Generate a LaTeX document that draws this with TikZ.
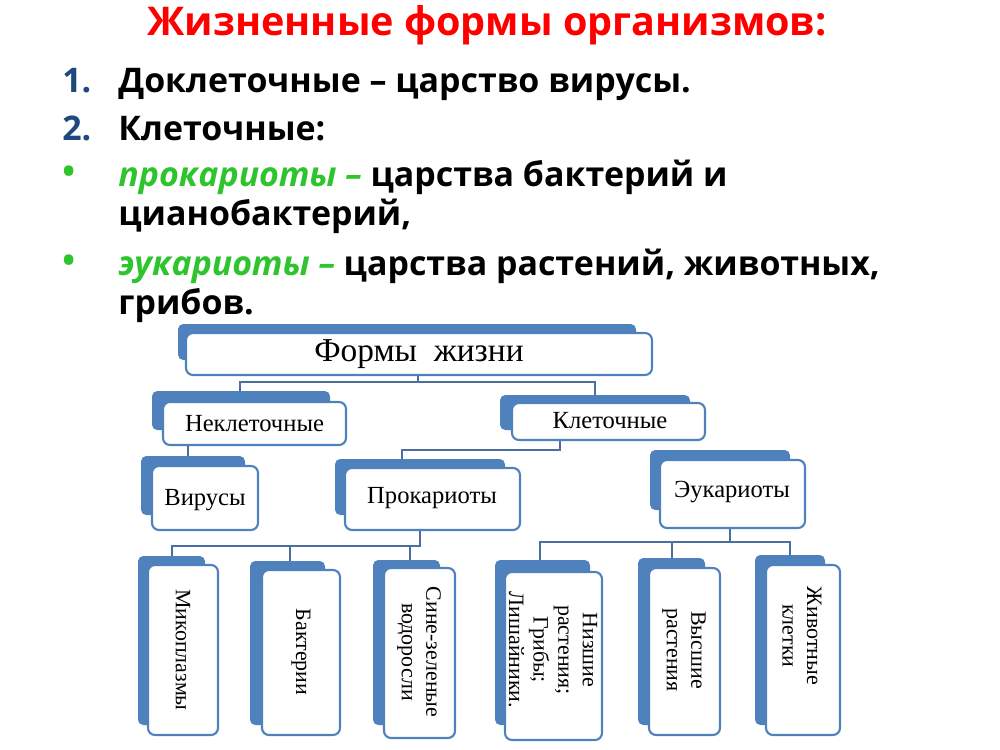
\documentclass[tikz,border=0pt]{standalone}
\usepackage{fontspec}
\setmainfont{Liberation Serif}
\newfontfamily\osans{Open Sans}
\definecolor{bl}{HTML}{4F81BD}
\definecolor{ln}{HTML}{4A6FA0}
\definecolor{nb}{HTML}{1F497D}
\definecolor{gr}{HTML}{2EC42E}
\begin{document}
\begin{tikzpicture}[x=0.02cm,y=-0.02cm,
  back/.style={fill=bl,rounded corners=3pt},
  front/.style={draw=bl,line width=1.2pt,fill=white,rounded corners=4pt},
  conn/.style={draw=ln,line width=1pt},
  lab/.style={font=\fontsize{14}{16}\selectfont,align=center},
  vlab/.style={font=\fontsize{12.5}{14}\selectfont,align=center,rotate=-90},
  ttl/.style={font=\osans\bfseries\fontsize{19.3}{22}\selectfont,anchor=base west,inner sep=0pt}]
\useasboundingbox (0,0) rectangle (1000,750);
% title and list
\node[font=\osans\bfseries\fontsize{22.5}{26}\selectfont,text=red] (title) at (487,25) {Жизненные формы организмов:};
\node[ttl,text=nb] (n1) at (62,92) {1.};
\node[ttl] (t1) at (118,92) {Доклеточные – царство вирусы.};
\node[ttl,text=nb] (n2) at (62,140) {2.};
\node[ttl] (t2) at (118,140) {Клеточные:};
\node[ttl,text=gr] (b1) at (62,183) {•};
\node[ttl] (t3) at (118,186) {\textcolor{gr}{\itshape прокариоты –} царства бактерий и};
\node[ttl] (t3b) at (118,225) {цианобактерий,};
\node[ttl,text=gr] (b2) at (62,272) {•};
\node[ttl] (t4) at (118,275) {\textcolor{gr}{\itshape эукариоты –} царства растений, животных,};
\node[ttl] (t4b) at (118,314) {грибов.};
% connectors
\draw[conn] (418,375) -- (418,382) -- (240,382) -- (240,392);
\draw[conn] (418,382) -- (595,382) -- (595,397);
\draw[conn] (188,445) -- (188,457);
\draw[conn] (560,440) -- (560,450) -- (402,450) -- (402,460);
\draw[conn] (420,530) -- (420,546) -- (172,546) -- (172,556);
\draw[conn] (290,546) -- (290,561);
\draw[conn] (410,546) -- (410,560);
\draw[conn] (730,528) -- (730,542) -- (540,542) -- (540,560);
\draw[conn] (672,542) -- (672,558);
\draw[conn] (730,542) -- (790,542) -- (790,555);
% boxes
\newcommand\bx[9]{%
  \fill[back] (#1,#2) rectangle (#3,#4);
  \draw[front] (#5,#6) rectangle (#7,#8) node[pos=.5] (#9) {};}
\bx{178}{324}{636}{360}{186}{333}{652}{375}{forms}
\node[font=\fontsize{19}{22}\selectfont] at (forms) {Формы\ \ жизни};
\bx{152}{391}{330}{430}{163}{402}{346}{445}{nonc}
\node[lab] at (nonc) {Неклеточные};
\bx{500}{395}{690}{430}{512}{403}{705}{440}{cell}
\node[lab] at (610,421) {Клеточные};
\bx{141}{456}{245}{515}{152}{466}{258}{530}{vir}
\node[lab] at (205,500) {Вирусы};
\bx{335}{459}{505}{515}{345}{468}{520}{530}{prok}
\node[lab] at (432,498) {Прокариоты};
\bx{650}{450}{790}{510}{660}{460}{805}{528}{euk}
\node[lab] at (732,492) {Эукариоты};
\bx{138}{556}{205}{725}{148}{565}{218}{735}{myc}
\node[vlab] at (183,650) {Микоплазмы};
\bx{250}{561}{325}{725}{262}{570}{340}{735}{bac}
\node[vlab] at (301,652) {Бактерии};
\bx{373}{560}{440}{725}{384}{568}{455}{738}{cyan}
\node[vlab] at (419,652) {Сине-зеленые\\водоросли};
\bx{495}{560}{590}{725}{505}{572}{602}{740}{low}
\node[vlab] at (553,650) {Низшие\\растения;\\Грибы;\\Лишайники.};
\bx{638}{558}{705}{725}{649}{568}{720}{735}{high}
\node[vlab] at (684,650) {Высшие\\растения};
\bx{755}{555}{825}{725}{766}{565}{840}{735}{anim}
\node[vlab] at (802,636) {Животные\\клетки};
\end{tikzpicture}
\end{document}
